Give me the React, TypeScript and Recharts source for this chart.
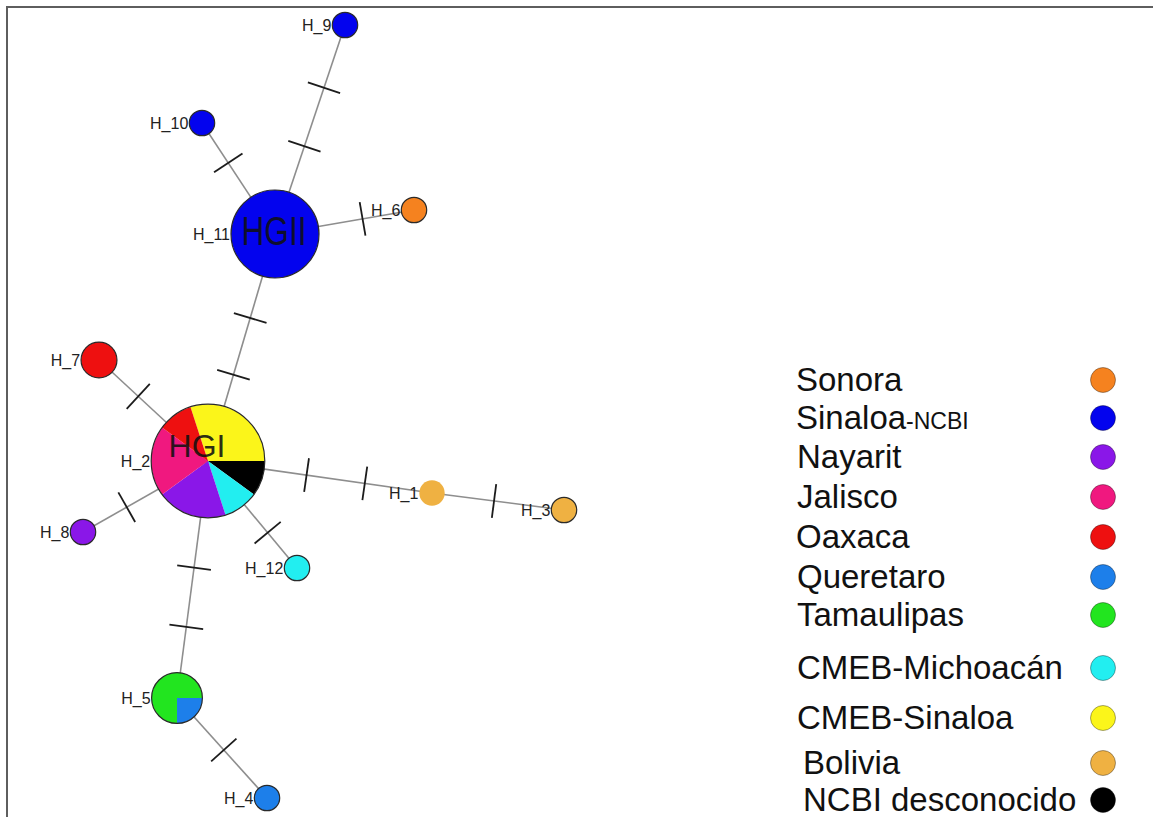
import React from 'react';
import { ScatterChart, Scatter, XAxis, YAxis, Legend, Sector } from 'recharts';

const W = 1153;
const H = 817;

// populations, in legend order
const populations = [
  'Sonora',
  'Sinaloa-NCBI',
  'Nayarit',
  'Jalisco',
  'Oaxaca',
  'Queretaro',
  'Tamaulipas',
  'CMEB-Michoacán',
  'CMEB-Sinaloa',
  'Bolivia',
  'NCBI desconocido',
];

// haplotypes and their place in the network layout
const haplotypes = ['H_1', 'H_2', 'H_3', 'H_4', 'H_5', 'H_6', 'H_7', 'H_8', 'H_9', 'H_10', 'H_11', 'H_12'];
const hapX = [432, 208, 564, 267, 177, 414, 99, 83, 345, 202, 275, 297];
const hapY = [493, 461, 510, 798, 698, 210, 360, 532, 25, 123, 234, 568];
const hapGroup = ['', 'HGI', '', '', '', '', '', '', '', '', 'HGII', ''];

// samples per population (clockwise pie order)
const hapCounts: [string, number][][] = [
  [['Bolivia', 1]],
  [
    ['CMEB-Sinaloa', 6],
    ['NCBI desconocido', 2],
    ['CMEB-Michoacán', 2],
    ['Nayarit', 4],
    ['Jalisco', 4],
    ['Oaxaca', 2],
  ],
  [['Bolivia', 1]],
  [['Queretaro', 1]],
  [['Queretaro', 1], ['Tamaulipas', 3]],
  [['Sonora', 1]],
  [['Oaxaca', 2]],
  [['Nayarit', 1]],
  [['Sinaloa-NCBI', 1]],
  [['Sinaloa-NCBI', 1]],
  [['Sinaloa-NCBI', 12]],
  [['CMEB-Michoacán', 1]],
];

// network edges and where the mutation marks sit along them (fraction from -> to)
const edgeFrom = ['H_11', 'H_11', 'H_11', 'H_2', 'H_2', 'H_2', 'H_2', 'H_2', 'H_1', 'H_2', 'H_5'];
const edgeTo = ['H_9', 'H_10', 'H_6', 'H_11', 'H_7', 'H_8', 'H_12', 'H_1', 'H_3', 'H_5', 'H_4'];
const edgeMutations = [
  [0.42, 0.7],
  [0.64],
  [0.63],
  [0.38, 0.63],
  [0.64],
  [0.65],
  [0.67],
  [0.44, 0.7],
  [0.47],
  [0.45, 0.7],
  [0.52],
];

// styles
const POP_COLORS: Record<string, string> = {
  Sonora: '#f5821f',
  'Sinaloa-NCBI': '#0303ee',
  Nayarit: '#8a17e8',
  Jalisco: '#f0187f',
  Oaxaca: '#ee1010',
  Queretaro: '#1d7fea',
  Tamaulipas: '#22e51f',
  'CMEB-Michoacán': '#22eef0',
  'CMEB-Sinaloa': '#fbf51a',
  Bolivia: '#efb142',
  'NCBI desconocido': '#000000',
};
const PIE_START: Record<string, number> = { H_2: 108, H_5: 0 };
const NO_OUTLINE = ['H_1'];
const GROUP_LABEL: Record<string, { dx: number; dy: number; size: number; len?: number }> = {
  HGI: { dx: -11, dy: -4, size: 32 },
  HGII: { dx: -1, dy: 11, size: 40, len: 65 },
};
const UNIT_R = 12.7;
const TICK_LEN = 34;
const FONT = 'Liberation Sans, Arial, sans-serif';
const LEGEND_ROW_Y = [380, 418, 457, 497, 537, 577, 615, 668, 718, 763, 800];
const LEGEND_TEXT_X = [796, 796, 797, 797, 796, 797, 797, 797, 797, 803, 803];
const LEGEND_DOT_X = 1103;

const nodes = haplotypes.map((name, i) => ({
  name,
  x: hapX[i],
  y: hapY[i],
  parts: hapCounts[i],
  total: hapCounts[i].reduce((s, p) => s + p[1], 0),
  group: hapGroup[i],
}));

const nodeOf = (name: string) => nodes[haplotypes.indexOf(name)];

const edges = edgeFrom.map((f, i) => {
  const a = nodeOf(f);
  const b = nodeOf(edgeTo[i]);
  return [
    { x: a.x, y: a.y },
    { x: b.x, y: b.y },
  ];
});

const mutationMarks = edgeFrom.flatMap((f, i) => {
  const a = nodeOf(f);
  const b = nodeOf(edgeTo[i]);
  const len = Math.hypot(b.x - a.x, b.y - a.y);
  return edgeMutations[i].map((t) => ({
    x: a.x + t * (b.x - a.x),
    y: a.y + t * (b.y - a.y),
    ux: (b.x - a.x) / len,
    uy: (b.y - a.y) / len,
  }));
});

const NoPoint = () => <g />;

function MutationTick(props: any) {
  const { cx, cy, payload } = props;
  const h = TICK_LEN / 2;
  const nx = -payload.uy;
  const ny = payload.ux;
  return (
    <line
      x1={cx - nx * h}
      y1={cy - ny * h}
      x2={cx + nx * h}
      y2={cy + ny * h}
      stroke="#1c1c1c"
      strokeWidth={1.8}
    />
  );
}

function HaplotypeNode(props: any) {
  const { cx, cy, payload } = props;
  const { name, parts, total, group } = payload;
  const r = UNIT_R * Math.sqrt(total);
  const outline = NO_OUTLINE.includes(name) ? 'none' : '#2a2a2a';

  let body: React.ReactNode;
  if (parts.length === 1) {
    body = <circle cx={cx} cy={cy} r={r} fill={POP_COLORS[parts[0][0]]} stroke={outline} strokeWidth={1.2} />;
  } else {
    let angle = PIE_START[name] ?? 90;
    const slices = parts.map(([pop, n]: [string, number]) => {
      const start = angle;
      angle -= (n / total) * 360;
      return (
        <Sector
          key={pop}
          cx={cx}
          cy={cy}
          innerRadius={0}
          outerRadius={r}
          startAngle={start}
          endAngle={angle}
          fill={POP_COLORS[pop]}
          stroke="none"
        />
      );
    });
    body = (
      <g>
        {slices}
        <circle cx={cx} cy={cy} r={r} fill="none" stroke={outline} strokeWidth={1.2} />
      </g>
    );
  }

  const gl = group ? GROUP_LABEL[group] : null;
  return (
    <g>
      {body}
      {gl && (
        <text
          x={cx + gl.dx}
          y={cy + gl.dy}
          textAnchor="middle"
          fontSize={gl.size}
          fontFamily={FONT}
          fill="#111"
          fillOpacity={0.9}
          textLength={gl.len}
          lengthAdjust={gl.len ? 'spacingAndGlyphs' : undefined}
        >
          {group}
        </text>
      )}
      <text x={cx - r - 1} y={cy + 6} textAnchor="end" fontSize={16} fontFamily={FONT} fill="#222">
        {name}
      </text>
    </g>
  );
}

function renderLegend() {
  return (
    <div style={{ position: 'relative', width: W, height: H, fontFamily: FONT }}>
      {populations.map((p, i) => (
        <React.Fragment key={p}>
          <div
            style={{
              position: 'absolute',
              left: LEGEND_TEXT_X[i],
              top: LEGEND_ROW_Y[i] - 19,
              height: 38,
              lineHeight: '38px',
              fontSize: 33,
              color: '#111',
              whiteSpace: 'nowrap',
            }}
          >
            {p === 'Sinaloa-NCBI' ? (
              <>
                Sinaloa<span style={{ fontSize: 23 }}>-NCBI</span>
              </>
            ) : (
              p
            )}
          </div>
          <svg
            style={{ position: 'absolute', left: LEGEND_DOT_X - 14, top: LEGEND_ROW_Y[i] - 14 }}
            width={28}
            height={28}
          >
            <circle cx={14} cy={14} r={12.5} fill={POP_COLORS[p]} stroke="rgba(0,0,0,0.35)" strokeWidth={1} />
          </svg>
        </React.Fragment>
      ))}
    </div>
  );
}

export default function App() {
  return (
    <div style={{ position: 'absolute', left: 0, top: 0, width: W, height: H, background: '#fff', overflow: 'hidden' }}>
      <div
        style={{
          position: 'absolute',
          left: 6,
          top: 6,
          width: W,
          height: H,
          borderTop: '2px solid #5e5e5e',
          borderLeft: '2px solid #5e5e5e',
        }}
      />
      <ScatterChart width={W} height={H} margin={{ top: 0, right: 0, bottom: 0, left: 0 }}>
        <XAxis type="number" dataKey="x" domain={[0, W]} allowDataOverflow hide />
        <YAxis type="number" dataKey="y" domain={[0, H]} allowDataOverflow reversed hide />
        <Legend
          layout="vertical"
          align="center"
          verticalAlign="middle"
          content={renderLegend}
          wrapperStyle={{ left: 0, top: 0, width: W, height: H, pointerEvents: 'none' }}
        />
        {edges.map((pts, i) => (
          <Scatter
            key={`edge-${i}`}
            data={pts}
            line={{ stroke: '#8e8e8e', strokeWidth: 1.6 }}
            shape={NoPoint}
            legendType="none"
            isAnimationActive={false}
          />
        ))}
        <Scatter data={mutationMarks} shape={MutationTick} legendType="none" isAnimationActive={false} />
        <Scatter data={nodes} shape={HaplotypeNode} legendType="none" isAnimationActive={false} />
      </ScatterChart>
    </div>
  );
}
